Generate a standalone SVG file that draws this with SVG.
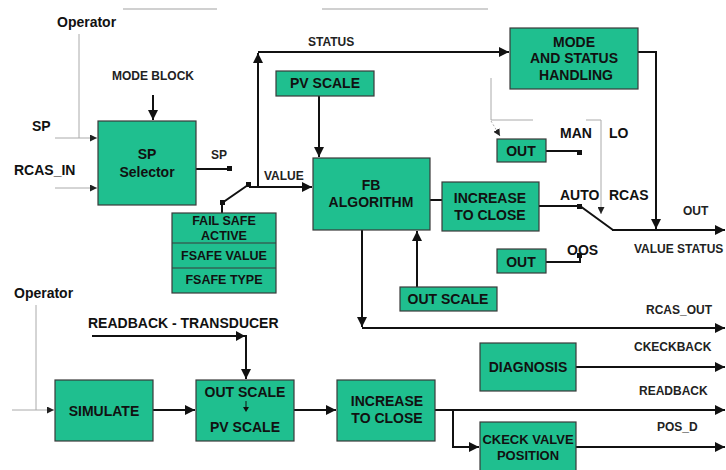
<svg xmlns="http://www.w3.org/2000/svg" width="726" height="470" viewBox="0 0 726 470">
<style>
.box{fill:#1fbf8f;stroke:#3a3a3a;stroke-width:1.2}
.bt{font-family:"Liberation Sans",Arial,sans-serif;font-weight:bold;font-size:14px;fill:#111;text-anchor:middle}
.fs{font-size:12.5px}
.lb{font-family:"Liberation Sans",Arial,sans-serif;font-weight:bold;font-size:14px;fill:#111}
.sl{font-size:12px;fill:#222}
.ln{fill:none;stroke:#111;stroke-width:2}
.gl{fill:none;stroke:#aaa;stroke-width:1}
.sq{fill:#111}
</style>
<defs>
<marker id="ah" viewBox="0 0 10 10" refX="10" refY="5" markerWidth="5" markerHeight="5" orient="auto" markerUnits="strokeWidth"><path d="M0,0 L10,5 L0,10 z" fill="#111"/></marker>
<marker id="sah" viewBox="0 0 10 10" refX="10" refY="5" markerWidth="7" markerHeight="7" orient="auto" markerUnits="strokeWidth"><path d="M0,0 L10,5 L0,10 z" fill="#222"/></marker>
</defs>
<rect width="726" height="470" fill="#fff"/>
<g id="decor">
<line x1="123" y1="9" x2="217" y2="9" stroke="#d0d0d0" stroke-width="2"/>
<line x1="322" y1="9" x2="488" y2="9" stroke="#d0d0d0" stroke-width="2"/>
</g>
<g id="connectors">
<path class="gl" d="M79,34 V138"/>
<path class="gl" d="M55,138 H97" marker-end="url(#sah)"/>
<path class="gl" d="M55,188 H97" marker-end="url(#sah)"/>
<path class="ln" d="M153,95 V120" marker-end="url(#ah)"/>
<path class="ln" d="M196,169 H229"/>
<rect class="sq" x="227" y="166" width="5" height="5"/>
<path class="ln" d="M222,213 V203 L248,185"/>
<rect class="sq" x="220" y="200" width="5" height="5"/>
<rect class="sq" x="246" y="182" width="5" height="5"/>
<path class="ln" d="M249,187 H312" marker-end="url(#ah)"/>
<path class="ln" d="M258,187 V53" marker-end="url(#ah)"/>
<path class="ln" d="M258,52 H509" marker-end="url(#ah)"/>
<path class="ln" d="M319,96 V157" marker-end="url(#ah)"/>
<path class="ln" d="M430,200 H442"/>
<path class="ln" d="M539,206 H580 L613,230"/>
<rect class="sq" x="577" y="204" width="5" height="5"/>
<path class="ln" d="M612,230 H725" marker-end="url(#ah)"/>
<path class="ln" d="M638,52 H656 V229" marker-end="url(#ah)"/>
<path class="gl" d="M491,78 V120 H533"/>
<path class="gl" d="M491,121 L500,136" stroke-dasharray="2,2" marker-end="url(#sah)"/>
<path class="gl" d="M586,120 H601 V214" marker-end="url(#sah)"/>
<path class="ln" d="M546,151 H579"/>
<rect class="sq" x="577" y="150" width="5" height="5"/>
<path class="ln" d="M546,262 H580 V256"/>
<rect class="sq" x="577" y="253" width="5" height="5"/>
<path class="ln" d="M417,287 V231" marker-end="url(#ah)"/>
<path class="ln" d="M362,230 V327" marker-end="url(#ah)"/>
<path class="ln" d="M362,328 H725" marker-end="url(#ah)"/>
<path class="ln" d="M576,367 H725" marker-end="url(#ah)"/>
<path class="ln" d="M435,410 H725" marker-end="url(#ah)"/>
<path class="ln" d="M453,410 V447 H479" marker-end="url(#ah)"/>
<path class="ln" d="M576,447 H725" marker-end="url(#ah)"/>
<path class="gl" d="M36,305 V410"/>
<path class="gl" d="M12,410 H54" marker-end="url(#sah)"/>
<path class="ln" d="M153,410 H195" marker-end="url(#ah)"/>
<path class="ln" d="M294,410 H336" marker-end="url(#ah)"/>
<path class="ln" d="M92,336 H246 V379" marker-end="url(#ah)"/>
<path d="M236,331 L245,336 L236,341 z" fill="#111"/>
</g>
<g id="labels">
<text class="lb" x="57" y="27">Operator</text>
<text class="lb sl" x="112" y="80">MODE BLOCK</text>
<text class="lb" x="32" y="131">SP</text>
<text class="lb" x="14" y="175">RCAS_IN</text>
<text class="lb sl" x="211" y="159">SP</text>
<text class="lb sl" x="264" y="180">VALUE</text>
<text class="lb sl" x="308" y="46">STATUS</text>
<text class="lb" x="560" y="138">MAN</text>
<text class="lb" x="609" y="138">LO</text>
<text class="lb" x="560" y="200">AUTO</text>
<text class="lb" x="609" y="200">RCAS</text>
<text class="lb sl" x="683" y="215">OUT</text>
<text class="lb sl" x="634" y="253">VALUE STATUS</text>
<text class="lb" x="567" y="255">OOS</text>
<text class="lb sl" x="646" y="314">RCAS_OUT</text>
<text class="lb sl" x="634" y="351">CKECKBACK</text>
<text class="lb sl" x="639" y="395">READBACK</text>
<text class="lb sl" x="657" y="431">POS_D</text>
<text class="lb" x="14" y="298">Operator</text>
<text class="lb" x="88" y="328">READBACK - TRANSDUCER</text>
</g>
<g id="sp-selector"><rect class="box" x="98" y="121" width="98" height="84"/><text class="bt" x="147" y="159">SP</text><text class="bt" x="147" y="177">Selector</text></g>
<g id="fail-safe"><rect class="box" x="172" y="213" width="104" height="80"/><line x1="172" y1="243" x2="276" y2="243" stroke="#3a3a3a" stroke-width="1.2"/><line x1="172" y1="268" x2="276" y2="268" stroke="#3a3a3a" stroke-width="1.2"/><text class="bt fs" x="224" y="225">FAIL SAFE</text><text class="bt fs" x="224" y="240">ACTIVE</text><text class="bt fs" x="224" y="260">FSAFE VALUE</text><text class="bt fs" x="224" y="284">FSAFE TYPE</text></g>
<g id="pv-scale"><rect class="box" x="276" y="71" width="98" height="25"/><text class="bt" x="325" y="88">PV SCALE</text></g>
<g id="fb-algorithm"><rect class="box" x="313" y="158" width="117" height="72"/><text class="bt" x="371" y="190">FB</text><text class="bt" x="371" y="207">ALGORITHM</text></g>
<g id="mode-status"><rect class="box" x="510" y="28" width="128" height="61"/><text class="bt" x="574" y="47">MODE</text><text class="bt" x="574" y="63">AND STATUS</text><text class="bt" x="576" y="80">HANDLING</text></g>
<g id="increase-top"><rect class="box" x="442" y="182" width="97" height="49"/><text class="bt" x="490" y="203">INCREASE</text><text class="bt" x="490" y="220">TO CLOSE</text></g>
<g id="out-man"><rect class="box" x="497" y="139" width="49" height="23"/><text class="bt" x="521" y="156">OUT</text></g>
<g id="out-oos"><rect class="box" x="497" y="249" width="49" height="24"/><text class="bt" x="521" y="267">OUT</text></g>
<g id="out-scale"><rect class="box" x="400" y="287" width="97" height="24"/><text class="bt" x="448" y="304">OUT SCALE</text></g>
<g id="diagnosis"><rect class="box" x="480" y="343" width="96" height="48"/><text class="bt" x="528" y="372">DIAGNOSIS</text></g>
<g id="check-valve"><rect class="box" x="480" y="422" width="96" height="50"/><text class="bt" x="528" y="444" style="font-size:13px">CKECK VALVE</text><text class="bt" x="528" y="460" style="font-size:13px">POSITION</text></g>
<g id="simulate"><rect class="box" x="55" y="380" width="98" height="61"/><text class="bt" x="104" y="416">SIMULATE</text></g>
<g id="scale-conv"><rect class="box" x="196" y="380" width="98" height="61"/><text class="bt" x="245" y="397">OUT SCALE</text><path d="M246,401 V410" stroke="#111" stroke-width="1"/><path d="M243,407 L246,412 L249,407 z" fill="#111"/><text class="bt" x="245" y="432">PV SCALE</text></g>
<g id="increase-bottom"><rect class="box" x="337" y="380" width="98" height="61"/><text class="bt" x="387" y="406">INCREASE</text><text class="bt" x="387" y="423">TO CLOSE</text></g>
</svg>
